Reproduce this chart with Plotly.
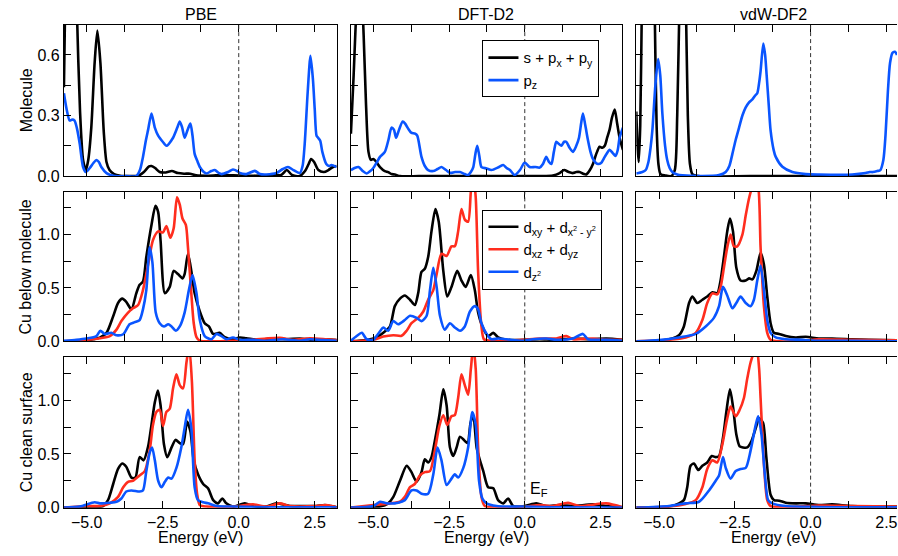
import plotly.graph_objects as go

W, H = 898, 556

# ---------------- data: energies (eV) and PDOS values ----------------
# Row 1: molecule (s+px+py, pz)
pbe_mol_spxy_e = [-5.75, -5.70, -5.60, -5.50, -5.40, -5.32, -5.22, -5.12, -5.03, -4.95, -4.85, -4.74, -4.65, -4.55, -4.44, -4.35, -4.25, -4.10, -3.90, -3.60, -3.30, -3.12, -2.95, -2.87, -2.75, -2.60, -2.40, -2.20, -2.00, -1.80, -1.60, -1.40, -1.00, -0.50, 0.00, 0.50, 1.00, 1.40, 1.58, 1.75, 2.00, 2.18, 2.30, 2.38, 2.48, 2.62, 2.80, 2.95, 3.10, 3.22]
pbe_mol_spxy = [0.44, 0.95, 1.60, 1.80, 1.40, 0.80, 0.32, 0.08, 0.03, 0.08, 0.24, 0.56, 0.72, 0.56, 0.22, 0.07, 0.03, 0.01, 0.002, 0.0, 0.002, 0.02, 0.048, 0.05, 0.04, 0.02, 0.018, 0.025, 0.015, 0.012, 0.012, 0.004, 0.002, 0.005, 0.003, 0.002, 0.004, 0.006, 0.03, 0.006, 0.0, 0.025, 0.06, 0.085, 0.07, 0.03, 0.02, 0.03, 0.045, 0.05]
pbe_mol_pz_e = [-5.75, -5.66, -5.56, -5.48, -5.40, -5.32, -5.23, -5.12, -5.03, -4.90, -4.78, -4.68, -4.60, -4.52, -4.35, -4.08, -3.70, -3.37, -3.25, -3.15, -3.05, -2.98, -2.87, -2.76, -2.65, -2.50, -2.38, -2.16, -2.02, -1.94, -1.86, -1.78, -1.68, -1.59, -1.52, -1.45, -1.35, -1.28, -1.15, -1.06, -0.90, -0.79, -0.65, -0.57, -0.35, -0.19, -0.05, 0.03, 0.25, 0.53, 0.70, 0.91, 1.24, 1.45, 1.62, 1.80, 2.01, 2.10, 2.17, 2.27, 2.36, 2.44, 2.50, 2.56, 2.61, 2.68, 2.75, 2.88, 2.97, 3.05, 3.22]
pbe_mol_pz = [0.41, 0.33, 0.275, 0.28, 0.275, 0.235, 0.16, 0.045, 0.02, 0.04, 0.065, 0.08, 0.07, 0.045, 0.015, 0.0, 0.0, 0.0, 0.03, 0.095, 0.18, 0.23, 0.31, 0.24, 0.20, 0.17, 0.15, 0.19, 0.24, 0.27, 0.24, 0.19, 0.23, 0.26, 0.20, 0.11, 0.07, 0.045, 0.02, 0.013, 0.025, 0.03, 0.015, 0.01, 0.02, 0.033, 0.025, 0.016, 0.01, 0.026, 0.01, 0.008, 0.015, 0.035, 0.045, 0.03, 0.015, 0.05, 0.16, 0.42, 0.595, 0.48, 0.33, 0.20, 0.19, 0.175, 0.12, 0.06, 0.05, 0.055, 0.045]

d2_mol_spxy_e = [-5.74, -5.65, -5.55, -5.47, -5.40, -5.32, -5.24, -5.16, -5.08, -5.00, -4.90, -4.78, -4.62, -4.51, -4.40, -4.29, -4.12, -3.50, -2.50, -1.50, -0.50, 0.50, 0.93, 1.15, 1.30, 1.45, 1.59, 1.70, 1.81, 1.95, 2.03, 2.15, 2.25, 2.36, 2.47, 2.56, 2.64, 2.72, 2.80, 2.88, 2.97, 3.05, 3.13, 3.24]
d2_mol_spxy = [0.21, 0.50, 0.85, 1.00, 0.95, 0.70, 0.35, 0.12, 0.08, 0.085, 0.07, 0.045, 0.025, 0.02, 0.01, 0.008, 0.0, 0.0, 0.0, 0.0, 0.0, 0.0, 0.003, 0.015, 0.03, 0.02, 0.015, 0.02, 0.02, 0.01, 0.008, 0.03, 0.06, 0.11, 0.145, 0.14, 0.15, 0.19, 0.23, 0.29, 0.33, 0.26, 0.19, 0.13]
d2_mol_pz_e = [-5.74, -5.62, -5.49, -5.35, -5.22, -5.10, -5.00, -4.88, -4.78, -4.62, -4.50, -4.40, -4.32, -4.25, -4.15, -4.03, -3.95, -3.85, -3.75, -3.62, -3.55, -3.41, -3.30, -3.19, -3.02, -2.88, -2.75, -2.60, -2.47, -2.30, -2.14, -1.98, -1.87, -1.78, -1.70, -1.63, -1.57, -1.50, -1.43, -1.26, -1.10, -0.85, -0.71, -0.60, -0.49, -0.33, -0.16, 0.00, 0.16, 0.35, 0.49, 0.60, 0.71, 0.80, 0.88, 0.96, 1.04, 1.12, 1.21, 1.30, 1.37, 1.48, 1.59, 1.70, 1.79, 1.86, 1.92, 2.00, 2.09, 2.17, 2.25, 2.35, 2.42, 2.52, 2.64, 2.80, 2.90, 3.00, 3.07, 3.13, 3.24]
d2_mol_pz = [0.03, 0.04, 0.045, 0.025, 0.013, 0.025, 0.04, 0.07, 0.095, 0.12, 0.18, 0.24, 0.23, 0.19, 0.23, 0.27, 0.26, 0.235, 0.215, 0.21, 0.20, 0.095, 0.05, 0.03, 0.025, 0.035, 0.045, 0.03, 0.016, 0.02, 0.02, 0.01, 0.005, 0.02, 0.045, 0.11, 0.15, 0.10, 0.045, 0.038, 0.03, 0.045, 0.055, 0.04, 0.03, 0.005, 0.03, 0.067, 0.045, 0.045, 0.042, 0.06, 0.095, 0.07, 0.06, 0.12, 0.17, 0.16, 0.15, 0.17, 0.17, 0.14, 0.12, 0.15, 0.19, 0.26, 0.31, 0.25, 0.175, 0.12, 0.085, 0.065, 0.06, 0.065, 0.095, 0.13, 0.115, 0.10, 0.13, 0.19, 0.24]

vdw_mol_spxy_e = [-5.75, -5.71, -5.67, -5.62, -5.57, -5.50, -5.40, -5.30, -5.20, -5.14, -5.08, -5.02, -4.95, -4.80, -4.60, -4.48, -4.40, -4.32, -4.22, -4.12, -4.05, -3.98, -3.90, -3.70, -2.00, 0.00, 2.85]
vdw_mol_spxy = [0.32, 0.15, 0.07, 0.25, 0.80, 1.40, 1.70, 1.70, 1.40, 0.80, 0.25, 0.06, 0.01, 0.003, 0.0, 0.03, 0.30, 0.90, 1.40, 0.90, 0.30, 0.06, 0.01, 0.0, 0.0, 0.0, 0.0]
vdw_mol_pz_e = [-5.75, -5.55, -5.44, -5.35, -5.28, -5.22, -5.12, -5.03, -4.96, -4.89, -4.80, -4.73, -4.65, -4.56, -4.40, -4.23, -3.57, -3.02, -2.80, -2.68, -2.58, -2.47, -2.36, -2.25, -2.14, -2.03, -1.92, -1.82, -1.76, -1.70, -1.65, -1.56, -1.50, -1.45, -1.38, -1.32, -1.22, -1.15, -0.93, -0.60, -0.16, 0.27, 1.37, 1.81, 1.95, 2.05, 2.20, 2.30, 2.40, 2.47, 2.55, 2.62, 2.70, 2.78, 2.85]
vdw_mol_pz = [0.013, 0.02, 0.03, 0.07, 0.14, 0.226, 0.45, 0.58, 0.50, 0.31, 0.15, 0.08, 0.04, 0.02, 0.008, 0.004, 0.0, 0.005, 0.02, 0.05, 0.11, 0.18, 0.24, 0.30, 0.34, 0.365, 0.38, 0.40, 0.41, 0.46, 0.52, 0.656, 0.60, 0.50, 0.35, 0.226, 0.13, 0.095, 0.046, 0.02, 0.01, 0.008, 0.008, 0.015, 0.02, 0.02, 0.025, 0.03, 0.08, 0.20, 0.42, 0.56, 0.61, 0.615, 0.60]

# Row 2: Cu below molecule (dxy+dx2-y2, dxz+dyz, dz2)
pbe_below_dxy_e = [-5.75, -5.12, -4.79, -4.57, -4.35, -4.13, -3.97, -3.83, -3.70, -3.53, -3.37, -3.26, -3.15, -3.04, -2.87, -2.74, -2.65, -2.57, -2.43, -2.27, -2.14, -2.00, -1.85, -1.78, -1.67, -1.56, -1.45, -1.28, -1.12, -0.98, -0.84, -0.63, -0.46, -0.19, 0.03, 0.25, 0.69, 1.13, 1.57, 2.01, 2.45, 2.88, 3.23]
pbe_below_dxy = [0.0, 0.006, 0.02, 0.035, 0.08, 0.235, 0.36, 0.40, 0.37, 0.30, 0.45, 0.53, 0.56, 0.79, 1.09, 1.27, 1.21, 0.94, 0.45, 0.51, 0.66, 0.63, 0.59, 0.63, 0.82, 0.66, 0.45, 0.28, 0.17, 0.14, 0.07, 0.08, 0.04, 0.02, 0.036, 0.03, 0.015, 0.027, 0.02, 0.027, 0.015, 0.02, 0.012]
pbe_below_dxz_e = [-5.75, -5.01, -4.57, -4.24, -4.02, -3.86, -3.64, -3.48, -3.31, -3.15, -2.98, -2.82, -2.65, -2.49, -2.38, -2.25, -2.14, -2.03, -1.94, -1.85, -1.74, -1.67, -1.56, -1.48, -1.39, -1.28, -0.84, -0.19, 0.47, 0.91, 1.35, 1.79, 2.34, 2.88, 3.23]
pbe_below_dxz = [0.0, 0.015, 0.03, 0.05, 0.11, 0.19, 0.27, 0.31, 0.34, 0.48, 0.72, 0.95, 1.03, 1.02, 1.08, 0.97, 1.06, 1.35, 1.28, 1.15, 1.09, 0.88, 0.45, 0.17, 0.04, 0.006, 0.0, 0.006, 0.015, 0.027, 0.034, 0.015, 0.03, 0.02, 0.012]
pbe_below_dz2_e = [-5.75, -5.34, -5.01, -4.68, -4.55, -4.41, -4.19, -4.02, -3.80, -3.59, -3.42, -3.26, -3.15, -3.04, -2.93, -2.84, -2.73, -2.60, -2.46, -2.32, -2.21, -2.07, -1.94, -1.78, -1.64, -1.52, -1.39, -1.28, -1.12, -0.90, -0.73, -0.57, -0.41, -0.19, 0.03, 0.47, 0.91, 1.46, 2.01, 2.34, 2.77, 3.23]
pbe_below_dz2 = [0.006, 0.015, 0.027, 0.05, 0.10, 0.07, 0.08, 0.058, 0.067, 0.16, 0.18, 0.20, 0.30, 0.48, 0.88, 0.74, 0.27, 0.17, 0.14, 0.16, 0.14, 0.10, 0.14, 0.27, 0.48, 0.62, 0.45, 0.20, 0.05, 0.02, 0.07, 0.05, 0.02, 0.037, 0.015, 0.015, 0.006, 0.02, 0.006, 0.02, 0.012, 0.006]

d2_below_dxy_e = [-5.74, -5.22, -4.89, -4.67, -4.45, -4.29, -4.12, -3.96, -3.79, -3.63, -3.52, -3.41, -3.30, -3.19, -3.08, -2.95, -2.84, -2.69, -2.56, -2.42, -2.23, -2.09, -1.95, -1.78, -1.65, -1.54, -1.40, -1.21, -1.04, -0.88, -0.60, -0.27, 0.05, 0.49, 1.04, 1.59, 2.25, 2.69, 3.24]
d2_below_dxy = [0.0, 0.012, 0.037, 0.08, 0.14, 0.33, 0.40, 0.43, 0.39, 0.34, 0.45, 0.65, 0.68, 0.79, 1.03, 1.24, 1.12, 0.66, 0.42, 0.51, 0.66, 0.57, 0.51, 0.62, 0.48, 0.27, 0.14, 0.05, 0.08, 0.037, 0.015, 0.012, 0.015, 0.02, 0.015, 0.027, 0.02, 0.027, 0.015]
d2_below_dxz_e = [-5.74, -5.00, -4.67, -4.34, -4.07, -3.90, -3.74, -3.52, -3.35, -3.19, -3.02, -2.91, -2.75, -2.58, -2.42, -2.31, -2.20, -2.09, -1.98, -1.87, -1.78, -1.70, -1.62, -1.54, -1.43, -1.35, -1.15, -0.60, -0.05, 0.49, 1.04, 1.37, 1.59, 2.25, 2.69, 3.24]
d2_below_dxz = [0.0, 0.015, 0.045, 0.058, 0.052, 0.10, 0.17, 0.22, 0.28, 0.39, 0.48, 0.63, 0.82, 0.80, 0.89, 0.89, 1.03, 1.24, 1.14, 1.12, 1.40, 1.55, 1.35, 0.65, 0.14, 0.02, 0.006, 0.006, 0.015, 0.027, 0.027, 0.05, 0.02, 0.027, 0.015, 0.015]
d2_below_dz2_e = [-5.74, -5.55, -5.38, -5.22, -5.00, -4.84, -4.67, -4.51, -4.34, -4.18, -3.96, -3.79, -3.57, -3.41, -3.24, -3.13, -3.02, -2.91, -2.80, -2.64, -2.47, -2.31, -2.14, -1.98, -1.81, -1.65, -1.54, -1.43, -1.26, -1.10, -0.88, -0.60, -0.05, 0.27, 0.71, 1.04, 1.59, 1.92, 2.09, 2.69, 3.24]
d2_below_dz2 = [0.006, 0.05, 0.08, 0.02, 0.015, 0.07, 0.13, 0.10, 0.19, 0.16, 0.20, 0.24, 0.22, 0.19, 0.24, 0.48, 0.69, 0.51, 0.24, 0.11, 0.17, 0.13, 0.10, 0.14, 0.28, 0.33, 0.30, 0.17, 0.07, 0.02, 0.027, 0.02, 0.006, 0.02, 0.027, 0.015, 0.027, 0.07, 0.02, 0.015, 0.006]

vdw_below_dxy_e = [-5.75, -5.00, -4.56, -4.34, -4.18, -4.01, -3.90, -3.74, -3.57, -3.41, -3.24, -3.08, -2.97, -2.86, -2.75, -2.66, -2.56, -2.45, -2.31, -2.14, -2.03, -1.92, -1.79, -1.65, -1.54, -1.43, -1.32, -1.21, -1.04, -0.82, -0.49, -0.16, 0.27, 0.71, 1.37, 1.92, 2.85]
vdw_below_dxy = [0.0, 0.006, 0.027, 0.058, 0.14, 0.36, 0.42, 0.36, 0.39, 0.42, 0.46, 0.45, 0.57, 0.79, 1.03, 1.15, 1.03, 0.69, 0.57, 0.57, 0.59, 0.58, 0.66, 0.83, 0.72, 0.42, 0.17, 0.08, 0.07, 0.05, 0.037, 0.043, 0.027, 0.027, 0.02, 0.015, 0.01]
vdw_below_dxz_e = [-5.75, -4.67, -4.12, -3.79, -3.57, -3.41, -3.24, -3.08, -2.97, -2.86, -2.75, -2.64, -2.53, -2.42, -2.25, -2.14, -2.03, -1.92, -1.82, -1.73, -1.65, -1.54, -1.43, -1.32, -1.04, -0.27, 0.27, 1.37, 2.85]
vdw_below_dxz = [0.0, 0.015, 0.037, 0.08, 0.20, 0.36, 0.45, 0.44, 0.51, 0.69, 0.88, 1.00, 0.89, 0.89, 1.00, 1.18, 1.34, 1.45, 1.50, 1.45, 0.88, 0.33, 0.08, 0.015, 0.0, 0.006, 0.02, 0.015, 0.01]
vdw_below_dz2_e = [-5.75, -5.00, -4.34, -3.79, -3.46, -3.19, -3.02, -2.89, -2.75, -2.58, -2.45, -2.31, -2.14, -1.98, -1.87, -1.76, -1.65, -1.54, -1.43, -1.32, -1.15, -0.82, -0.27, 0.27, 1.37, 2.85]
vdw_below_dz2 = [0.0, 0.012, 0.037, 0.07, 0.14, 0.22, 0.33, 0.51, 0.43, 0.31, 0.36, 0.42, 0.36, 0.33, 0.39, 0.57, 0.71, 0.48, 0.20, 0.08, 0.037, 0.02, 0.015, 0.006, 0.006, 0.0]

# Row 3: Cu clean surface
pbe_clean_dxy_e = [-5.75, -4.79, -4.46, -4.30, -4.13, -3.97, -3.83, -3.70, -3.53, -3.40, -3.26, -3.13, -2.98, -2.87, -2.76, -2.66, -2.57, -2.46, -2.35, -2.21, -2.08, -1.94, -1.83, -1.70, -1.59, -1.48, -1.34, -1.17, -1.01, -0.84, -0.68, -0.54, -0.41, -0.19, 0.20, 0.47, 0.91, 1.24, 1.68, 2.01, 2.55, 2.83, 3.23]
pbe_clean_dxy = [0.0, 0.003, 0.015, 0.07, 0.22, 0.36, 0.41, 0.38, 0.28, 0.28, 0.47, 0.44, 0.57, 0.77, 0.98, 1.09, 0.95, 0.59, 0.47, 0.56, 0.63, 0.60, 0.59, 0.80, 0.71, 0.44, 0.31, 0.22, 0.18, 0.07, 0.04, 0.085, 0.04, 0.01, 0.04, 0.015, 0.01, 0.04, 0.015, 0.015, 0.015, 0.025, 0.003]
pbe_clean_dxz_e = [-5.75, -5.01, -4.57, -4.24, -3.97, -3.80, -3.64, -3.48, -3.26, -3.09, -2.93, -2.82, -2.71, -2.60, -2.49, -2.38, -2.27, -2.16, -2.05, -1.94, -1.83, -1.72, -1.63, -1.54, -1.45, -1.37, -1.28, -1.06, -0.19, 0.47, 0.91, 1.35, 1.68, 2.55, 2.88, 3.23]
pbe_clean_dxz = [0.0, 0.015, 0.015, 0.04, 0.10, 0.19, 0.24, 0.25, 0.30, 0.34, 0.53, 0.77, 0.89, 0.91, 0.76, 0.89, 0.92, 1.11, 1.24, 1.14, 1.11, 1.35, 1.50, 1.17, 0.44, 0.13, 0.024, 0.01, 0.01, 0.03, 0.01, 0.04, 0.015, 0.015, 0.024, 0.003]
pbe_clean_dz2_e = [-5.75, -5.23, -4.74, -4.57, -4.24, -4.02, -3.86, -3.70, -3.53, -3.26, -3.15, -3.04, -2.93, -2.85, -2.76, -2.65, -2.54, -2.43, -2.32, -2.21, -2.05, -1.89, -1.78, -1.67, -1.56, -1.45, -1.34, -1.17, -1.01, -0.73, -0.19, 0.50, 1.50, 3.23]
pbe_clean_dz2 = [0.0, 0.01, 0.05, 0.04, 0.046, 0.055, 0.085, 0.15, 0.16, 0.15, 0.16, 0.34, 0.51, 0.56, 0.44, 0.25, 0.19, 0.24, 0.28, 0.27, 0.37, 0.56, 0.74, 0.91, 0.74, 0.19, 0.07, 0.05, 0.04, 0.015, 0.01, 0.006, 0.003, 0.003]

d2_clean_dxy_e = [-5.74, -4.78, -4.51, -4.34, -4.12, -3.90, -3.74, -3.57, -3.41, -3.30, -3.19, -3.08, -2.97, -2.82, -2.69, -2.58, -2.47, -2.36, -2.25, -2.14, -2.01, -1.89, -1.79, -1.70, -1.59, -1.48, -1.37, -1.21, -1.04, -0.88, -0.71, -0.55, -0.38, 0.00, 0.38, 0.71, 1.15, 1.59, 2.25, 2.69, 3.24]
d2_clean_dxy = [0.0, 0.01, 0.04, 0.10, 0.25, 0.39, 0.33, 0.24, 0.33, 0.45, 0.42, 0.47, 0.62, 0.86, 1.10, 0.95, 0.56, 0.48, 0.56, 0.66, 0.63, 0.60, 0.79, 0.86, 0.56, 0.44, 0.34, 0.19, 0.18, 0.07, 0.04, 0.085, 0.015, 0.015, 0.04, 0.015, 0.024, 0.015, 0.03, 0.015, 0.003]
d2_clean_dxz_e = [-5.74, -5.00, -4.45, -4.12, -3.96, -3.79, -3.63, -3.46, -3.30, -3.13, -2.97, -2.82, -2.69, -2.56, -2.42, -2.31, -2.20, -2.09, -1.98, -1.87, -1.78, -1.70, -1.62, -1.54, -1.43, -1.32, -0.60, 0.05, 0.49, 0.93, 1.43, 1.81, 2.69, 3.24]
d2_clean_dxz = [0.0, 0.024, 0.04, 0.055, 0.10, 0.19, 0.22, 0.30, 0.33, 0.34, 0.53, 0.76, 0.86, 0.77, 0.85, 0.86, 1.02, 1.24, 1.14, 1.05, 1.29, 1.50, 1.29, 0.56, 0.10, 0.015, 0.003, 0.01, 0.024, 0.015, 0.045, 0.015, 0.04, 0.003]
d2_clean_dz2_e = [-5.74, -5.00, -4.78, -4.56, -4.18, -3.96, -3.74, -3.57, -3.41, -3.19, -3.02, -2.88, -2.75, -2.58, -2.42, -2.31, -2.20, -2.03, -1.87, -1.73, -1.62, -1.51, -1.40, -1.26, -0.93, -0.60, 0.00, 1.00, 3.24]
d2_clean_dz2 = [0.0, 0.015, 0.055, 0.04, 0.046, 0.07, 0.16, 0.16, 0.13, 0.13, 0.31, 0.56, 0.44, 0.21, 0.27, 0.31, 0.28, 0.37, 0.56, 0.89, 0.77, 0.25, 0.085, 0.04, 0.015, 0.01, 0.01, 0.003, 0.0]

vdw_clean_dxy_e = [-5.75, -4.67, -4.34, -4.18, -4.07, -3.96, -3.85, -3.70, -3.57, -3.41, -3.26, -3.13, -3.02, -2.89, -2.78, -2.66, -2.56, -2.45, -2.34, -2.23, -2.09, -1.95, -1.81, -1.70, -1.57, -1.46, -1.32, -1.21, -1.04, -0.82, -0.49, -0.16, 0.27, 0.71, 1.37, 2.85]
vdw_clean_dxy = [0.0, 0.01, 0.04, 0.07, 0.19, 0.39, 0.41, 0.35, 0.39, 0.42, 0.48, 0.47, 0.48, 0.65, 0.89, 1.10, 0.94, 0.68, 0.57, 0.56, 0.56, 0.62, 0.74, 0.83, 0.79, 0.47, 0.12, 0.07, 0.065, 0.046, 0.04, 0.04, 0.024, 0.03, 0.015, 0.01]
vdw_clean_dxz_e = [-5.75, -4.67, -4.12, -3.79, -3.57, -3.41, -3.24, -3.08, -2.91, -2.75, -2.64, -2.47, -2.34, -2.20, -2.09, -1.98, -1.85, -1.77, -1.70, -1.65, -1.54, -1.43, -1.32, -0.80, 0.27, 1.37, 2.85]
vdw_clean_dxz = [0.0, 0.01, 0.034, 0.07, 0.19, 0.36, 0.44, 0.42, 0.59, 0.83, 0.94, 0.85, 0.91, 1.02, 1.20, 1.35, 1.45, 1.45, 1.30, 1.02, 0.41, 0.07, 0.015, 0.006, 0.02, 0.015, 0.01]
vdw_clean_dz2_e = [-5.75, -4.67, -4.12, -3.68, -3.35, -3.13, -3.02, -2.89, -2.80, -2.64, -2.47, -2.31, -2.14, -1.98, -1.81, -1.73, -1.62, -1.51, -1.40, -1.26, -0.82, 0.27, 2.85]
vdw_clean_dz2 = [0.0, 0.015, 0.04, 0.055, 0.16, 0.25, 0.30, 0.47, 0.37, 0.27, 0.34, 0.36, 0.37, 0.53, 0.77, 0.85, 0.68, 0.31, 0.07, 0.04, 0.015, 0.006, 0.003]

methods = ["PBE", "DFT-D2", "vdW-DF2"]
row_labels = ["Molecule", "Cu below molecule", "Cu clean surface"]
x_ticks = [-5.0, -2.5, 0.0, 2.5]
mol_names = ["s + p<sub>x</sub> + p<sub>y</sub>", "p<sub>z</sub>"]
d_names = ["d<sub>xy</sub> + d<sub>x<sup>2</sup> - y<sup>2</sup></sub>",
           "d<sub>xz</sub> + d<sub>yz</sub>",
           "d<sub>z<sup>2</sup></sub>"]

BLACK, RED, BLUE = "#000000", "#ff2d1e", "#0a55ff"

panels = [
    [[(pbe_mol_spxy_e, pbe_mol_spxy, BLACK), (pbe_mol_pz_e, pbe_mol_pz, BLUE)],
     [(d2_mol_spxy_e, d2_mol_spxy, BLACK), (d2_mol_pz_e, d2_mol_pz, BLUE)],
     [(vdw_mol_spxy_e, vdw_mol_spxy, BLACK), (vdw_mol_pz_e, vdw_mol_pz, BLUE)]],
    [[(pbe_below_dxy_e, pbe_below_dxy, BLACK), (pbe_below_dxz_e, pbe_below_dxz, RED), (pbe_below_dz2_e, pbe_below_dz2, BLUE)],
     [(d2_below_dxy_e, d2_below_dxy, BLACK), (d2_below_dxz_e, d2_below_dxz, RED), (d2_below_dz2_e, d2_below_dz2, BLUE)],
     [(vdw_below_dxy_e, vdw_below_dxy, BLACK), (vdw_below_dxz_e, vdw_below_dxz, RED), (vdw_below_dz2_e, vdw_below_dz2, BLUE)]],
    [[(pbe_clean_dxy_e, pbe_clean_dxy, BLACK), (pbe_clean_dxz_e, pbe_clean_dxz, RED), (pbe_clean_dz2_e, pbe_clean_dz2, BLUE)],
     [(d2_clean_dxy_e, d2_clean_dxy, BLACK), (d2_clean_dxz_e, d2_clean_dxz, RED), (d2_clean_dz2_e, d2_clean_dz2, BLUE)],
     [(vdw_clean_dxy_e, vdw_clean_dxy, BLACK), (vdw_clean_dxz_e, vdw_clean_dxz, RED), (vdw_clean_dz2_e, vdw_clean_dz2, BLUE)]],
]

# ---------------- layout geometry (pixels) ----------------
col_px = [(64, 337), (351, 623), (637, 898)]
row_px = [(25, 179), (195, 347), (363, 516)]
x_ranges = [[-5.75, 3.22], [-5.75, 3.22], [-5.75, 2.85]]
y_ranges = [[0, 0.75], [0, 1.4], [0, 1.4]]
y_dtick = [0.3, 0.5, 0.5]
title_cx = [201, 487, 774]

FONT = "Liberation Sans, Arial, Helvetica, sans-serif"

fig = go.Figure()
layout = dict(
    width=W, height=H, margin=dict(l=0, r=0, t=0, b=0),
    paper_bgcolor="white", plot_bgcolor="white",
    font=dict(family=FONT, size=16, color="black"),
    showlegend=True, shapes=[], annotations=[],
)

for r in range(3):
    for c in range(3):
        k = r * 3 + c + 1
        xa = "x" if k == 1 else f"x{k}"
        ya = "y" if k == 1 else f"y{k}"
        for i, (e, v, col) in enumerate(panels[r][c]):
            legend_key = None
            name = None
            show = False
            if r == 0 and c == 1:
                show, legend_key, name = True, "legend", mol_names[i]
            elif r == 1 and c == 1:
                show, legend_key, name = True, "legend2", d_names[i]
            tr = go.Scatter(x=e, y=v, mode="lines", xaxis=xa, yaxis=ya,
                            line=dict(color=col, width=2.6, shape="spline", smoothing=0.7),
                            showlegend=show, name=name, hoverinfo="skip")
            if legend_key:
                tr.legend = legend_key
            fig.add_trace(tr)

        x0, x1 = col_px[c]
        ytop, ybot = row_px[r]
        layout[f"xaxis{k}"] = dict(
            domain=[x0 / W, x1 / W], anchor=ya, range=x_ranges[c],
            showline=True, linecolor="black", linewidth=1, mirror="allticks",
            ticks="inside", ticklen=7, tickwidth=1, tickcolor="black",
            tickvals=x_ticks, tickformat=".1f", showticklabels=(r == 2),
            ticklabeloverflow="allow",
            tickfont=dict(size=16), showgrid=False, zeroline=False,
            minor=dict(dtick=1.25, tick0=0, ticks="inside", ticklen=7, tickcolor="black", showgrid=False),
        )
        layout[f"yaxis{k}"] = dict(
            domain=[1 - ybot / H, 1 - ytop / H], anchor=xa, range=y_ranges[r],
            showline=True, linecolor="black", linewidth=1, mirror=(c < 2),
            ticks="inside", ticklen=7, tickwidth=1, tickcolor="black",
            dtick=y_dtick[r], tick0=0, tickformat=".1f", showticklabels=(c == 0),
            tickfont=dict(size=16), showgrid=False, zeroline=False,
            minor=dict(dtick=y_dtick[r] / 2, tick0=0, ticks="inside", ticklen=7, tickcolor="black", showgrid=False),
        )
        # Fermi level
        layout["shapes"].append(dict(
            type="line", xref=xa, yref=f"{ya} domain", x0=0, x1=0, y0=0, y1=1,
            line=dict(color="#333333", width=1, dash="4px,3px")))

# column titles and energy axis labels
for c in range(3):
    layout["annotations"].append(dict(
        text=methods[c], x=title_cx[c] / W, y=1 - 14.5 / H, xref="paper", yref="paper",
        showarrow=False, xanchor="center", yanchor="middle", font=dict(size=16)))
    layout["annotations"].append(dict(
        text="Energy (eV)", x=title_cx[c] / W, y=1 - 546 / H, xref="paper", yref="paper",
        showarrow=False, xanchor="center", yanchor="middle", font=dict(size=16)))

# row labels
for r in range(3):
    ytop, ybot = row_px[r]
    layout["annotations"].append(dict(
        text=row_labels[r], x=26 / W, y=1 - (ytop + ybot) / 2 / H, xref="paper", yref="paper",
        showarrow=False, textangle=-90, xanchor="center", yanchor="middle", font=dict(size=16)))

# Fermi level label
layout["annotations"].append(dict(
    text="E<sub>F</sub>", x=0.12, y=0.17, xref="x8", yref="y8", showarrow=False,
    xanchor="left", yanchor="middle", font=dict(size=16)))

legend_common = dict(xanchor="left", yanchor="top", bgcolor="white", bordercolor="black",
                     borderwidth=1, font=dict(size=15, family=FONT), tracegroupgap=0,
                     itemwidth=30)
layout["legend"] = dict(x=483 / W, y=1 - 41 / H, **legend_common)
layout["legend2"] = dict(x=483 / W, y=1 - 213 / H, **legend_common)

fig.update_layout(**layout)
fig.write_html("out.html")
